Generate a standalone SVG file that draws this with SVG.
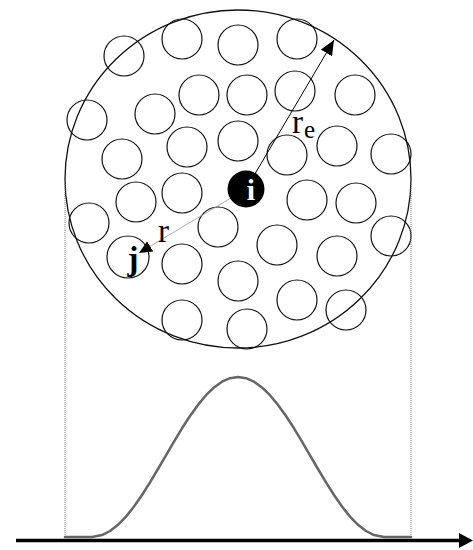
<svg xmlns="http://www.w3.org/2000/svg" width="473" height="550" viewBox="0 0 473 550">
<style>
.p{fill:none;stroke:#111;stroke-width:1.2}
.lbl{font-family:"Liberation Serif","Times New Roman",serif;fill:#000}
.dot{stroke:#777;stroke-width:1;stroke-dasharray:1 1;fill:none}
</style>
<defs>
<marker id="ah" markerUnits="userSpaceOnUse" markerWidth="16" markerHeight="14" refX="15" refY="6.5" orient="auto">
<path d="M0,0 L15,6.5 L0,13 z" fill="#000"/>
</marker>
<marker id="ah2" markerUnits="userSpaceOnUse" markerWidth="14" markerHeight="13" refX="13" refY="6" orient="auto">
<path d="M0,0 L13,6 L0,12 z" fill="#000"/>
</marker>
</defs>
<rect width="473" height="550" fill="#fff"/>
<g id="domain">
<ellipse cx="238" cy="179" rx="173" ry="169" fill="none" stroke="#111" stroke-width="1.3"/>
</g>
<g id="particles">
<circle class="p" cx="124" cy="56" r="20"/>
<circle class="p" cx="182" cy="39" r="20"/>
<circle class="p" cx="238" cy="45" r="20"/>
<circle class="p" cx="297" cy="39" r="20"/>
<circle class="p" cx="87" cy="120" r="20"/>
<circle class="p" cx="155" cy="114" r="20"/>
<circle class="p" cx="199" cy="95" r="20"/>
<circle class="p" cx="247" cy="95" r="20"/>
<circle class="p" cx="295" cy="91" r="20"/>
<circle class="p" cx="355" cy="95" r="20"/>
<circle class="p" cx="122" cy="159" r="20"/>
<circle class="p" cx="187" cy="147" r="20"/>
<circle class="p" cx="238" cy="141" r="20"/>
<circle class="p" cx="287" cy="155" r="20"/>
<circle class="p" cx="337" cy="146" r="20"/>
<circle class="p" cx="391" cy="154" r="20"/>
<circle class="p" cx="136" cy="202" r="20"/>
<circle class="p" cx="182" cy="193" r="20"/>
<circle class="p" cx="307" cy="200" r="20"/>
<circle class="p" cx="356" cy="203" r="20"/>
<circle class="p" cx="89" cy="223" r="20"/>
<circle class="p" cx="218" cy="227" r="20"/>
<circle class="p" cx="277" cy="245" r="20"/>
<circle class="p" cx="391" cy="236" r="20"/>
<circle class="p" cx="182" cy="264" r="20"/>
<circle class="p" cx="238" cy="281" r="20"/>
<circle class="p" cx="337" cy="256" r="20"/>
<circle class="p" cx="297" cy="300" r="20"/>
<circle class="p" cx="346" cy="310" r="20"/>
<circle class="p" cx="182" cy="320" r="20"/>
<circle class="p" cx="247" cy="329" r="20"/>
</g>
<g id="connectors">
<line x1="246" y1="189" x2="334" y2="40" stroke="#000" stroke-width="1" marker-end="url(#ah)"/>
<line x1="246" y1="189" x2="139" y2="253" stroke="#999" stroke-width="0.8" marker-end="url(#ah2)"/>
</g>
<g id="node-j">
<circle class="p" cx="128" cy="257" r="21"/>
<text class="lbl" x="133" y="270" font-size="33" font-weight="bold" text-anchor="middle">j</text>
</g>
<g id="node-i">
<circle cx="246" cy="189" r="18.5" fill="#000"/>
<text class="lbl" x="251" y="200" font-size="30" font-weight="bold" text-anchor="middle" style="fill:#fff">i</text>
</g>
<g id="labels">
<text class="lbl" x="292" y="133" font-size="33">r</text>
<text class="lbl" x="304" y="138" font-size="25">e</text>
<text class="lbl" x="158" y="242" font-size="33">r</text>
</g>
<g id="guides">
<line class="dot" x1="65" y1="180" x2="65" y2="537"/>
<line class="dot" x1="411" y1="180" x2="411" y2="537"/>
</g>
<g id="curve">
<path d="M65,537 L92,537 L102,535.1 L110,531 L118,524.8 L126,516.6 L134,506.5 L142,495 L150,482.4 L158,469 L166,455.3 L174,441.6 L182,428.3 L190,416 L198,404.9 L206,395.2 L214,387.4 L222,381.7 L230,378.2 L238,377 L246,378.2 L254,381.7 L262,387.4 L270,395.2 L278,404.9 L286,416 L294,428.3 L302,441.6 L310,455.3 L318,469 L326,482.4 L334,495 L342,506.5 L350,516.6 L358,524.8 L366,531 L374,535.1 L384,537 L411,537" fill="none" stroke="#666" stroke-width="2.5" stroke-linejoin="round" stroke-linecap="round"/>
</g>
<g id="axis">
<line x1="16" y1="540.5" x2="461" y2="540.5" stroke="#000" stroke-width="3.5"/>
<polygon points="459,533 473,540.5 459,548" fill="#000"/>
</g>
</svg>
